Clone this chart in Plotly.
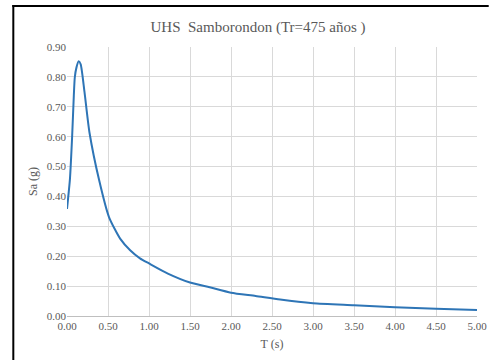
import plotly.graph_objects as go

T = [0.0, 0.036, 0.063, 0.083, 0.095, 0.115, 0.143, 0.167, 0.214, 0.274, 0.393, 0.512,
     0.65, 0.77, 0.89, 1.0, 1.23, 1.5, 1.74, 2.0, 2.3, 2.6, 3.0, 3.5, 4.0, 4.5, 5.0]
Sa = [0.358, 0.459, 0.603, 0.737, 0.798, 0.831, 0.852, 0.842, 0.748, 0.614, 0.453, 0.331,
      0.258, 0.22, 0.193, 0.176, 0.142, 0.112, 0.096, 0.078, 0.067, 0.055, 0.043, 0.036, 0.029, 0.024, 0.02]

xticks = [0, 0.5, 1, 1.5, 2, 2.5, 3, 3.5, 4, 4.5, 5]
yticks = [0, 0.1, 0.2, 0.3, 0.4, 0.5, 0.6, 0.7, 0.8, 0.9]

W, H = 494, 360
ml, mr, mt, mb = 67, 7, 47, 44
pw, ph = W - ml - mr, H - mt - mb

font = "Liberation Serif"
gray = "#595959"

fig = go.Figure(go.Scatter(x=T, y=Sa, mode="lines",
                           line=dict(color="#2E75B6", width=2, shape="spline", smoothing=0.6),
                           hoverinfo="skip"))

fig.update_layout(
    width=W, height=H,
    margin=dict(l=ml, r=mr, t=mt, b=mb),
    paper_bgcolor="white", plot_bgcolor="white",
    showlegend=False,
    font=dict(family=font, color=gray),
    title=dict(text="UHS  Samborondon (Tr=475 años )", x=258 / W,
               xanchor="center", y=1 - 27 / H, yanchor="middle",
               font=dict(family=font, size=15, color=gray)),
    xaxis=dict(range=[0, 5], tickvals=xticks, ticktext=[f"{v:.2f}" for v in xticks],
               showgrid=True, gridcolor="#D9D9D9", gridwidth=1,
               showline=True, linecolor="#BFBFBF", linewidth=1, zeroline=False,
               ticks="", ticklabeloverflow="allow",
               tickfont=dict(size=11, color=gray, family=font),
               title=dict(text="T (s)", font=dict(size=12, color=gray, family=font), standoff=8)),
    yaxis=dict(range=[0, 0.9], tickvals=yticks, ticktext=[f"{v:.2f}" for v in yticks],
               showgrid=True, gridcolor="#D9D9D9", gridwidth=1,
               showline=False, zeroline=False, ticks="", ticklen=0,
               tickfont=dict(size=11, color=gray, family=font),
               title=dict(text="Sa (g)", font=dict(size=12, color=gray, family=font), standoff=6)),
    shapes=[
        dict(type="line", xref="paper", yref="paper",
             x0=(12 - ml) / pw, x1=(12 - ml) / pw, y0=1 + (mt - 5) / ph, y1=-(mb + 5) / ph,
             line=dict(color="black", width=2)),
        dict(type="line", xref="paper", yref="paper",
             x0=(11 - ml) / pw, x1=(W + 5 - ml) / pw, y0=1 + (mt - 6) / ph, y1=1 + (mt - 6) / ph,
             line=dict(color="black", width=2)),
    ],
)

fig.write_html("out.html")
